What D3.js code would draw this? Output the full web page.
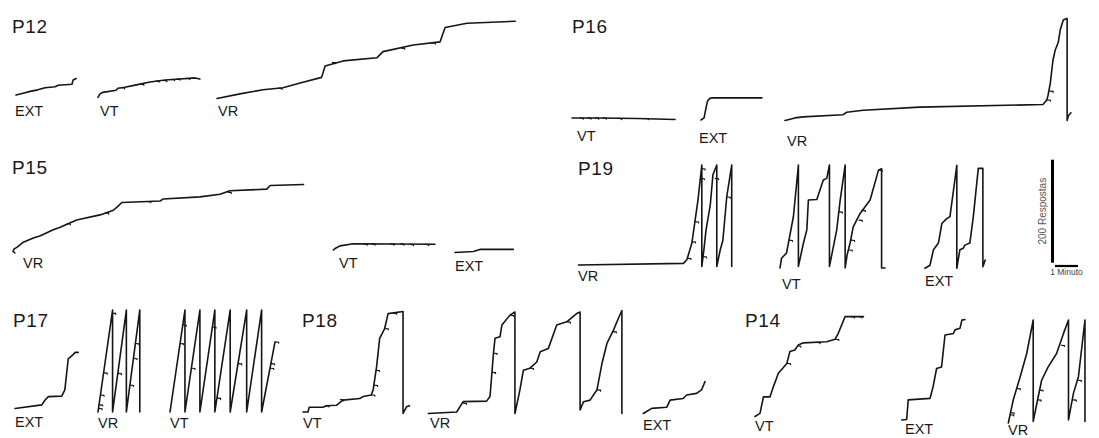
<!DOCTYPE html>
<html>
<head>
<meta charset="utf-8">
<script src="https://cdn.jsdelivr.net/npm/d3@7"></script>
<style>
  html, body { margin: 0; padding: 0; background: #fff; }
  svg { display: block; }
  text { font-family: "Liberation Sans", Arial, sans-serif; fill: #1a1a1a; }
</style>
</head>
<body>
<svg id="chart" width="1099" height="438"></svg>
<script>
// ---------------- DATA: cumulative records, [seconds, cumulative responses (pen position)] ----------------
const panels = ["P12", "P16", "P15", "P19", "P17", "P18", "P14"];
const conditions = ["EXT", "VT", "VR"];

const P12_EXT = [[0,0],[16,3],[37,7],[57,10],[76,14],[102,16],[110,19],[128,20],[146,21],[149,29],[157,32]];
const P12_VT  = [[0,1],[5,8],[13,11],[47,15],[52,19],[70,21],[97,25],[136,31],[175,35],[214,37],[253,39],[266,37]];
const P12_VT_PIPS = [[60,20],[110,27],[150,33],[170,34],[190,36],[205,37],[230,38]];
const P12_VR  = [[0,0],[60,9],[120,17],[172,21],[217,30],[273,41],[282,63],[329,73],[417,79],[433,91],[512,104],[582,110],[595,138],[652,146],[778,150]];
const P12_VR_PIPS = [[160,20],[300,70],[480,98],[560,108]];

const P16_VT  = [[0,3],[70,3],[170,2],[269,0]];
const P16_VT_PIPS = [[20,3],[40,3],[60,3],[80,3],[120,2],[190,2]];
const P16_EXT = [[0,0],[8,4],[13,23],[17,37],[23,42],[31,43],[159,43]];
const P16_VR  = [[0,1],[26,6],[47,8],[151,12],[161,17],[204,21],[352,27],[673,32],[683,41],[686,49],[692,73],[699,118],[705,138],[713,153],[718,177],[726,196],[735,199],[736,199],[736,1],[739,10],[746,16]];
const P16_VR_PIPS = [[683,41],[690,58]];

const P15_VR  = [[5,0],[0,3],[3,8],[10,11],[27,21],[53,29],[70,33],[105,45],[123,50],[166,64],[227,74],[262,83],[274,91],[284,98],[384,101],[392,105],[488,109],[540,114],[566,121],[662,124],[671,131],[758,133]];
const P15_VR_PIPS = [[140,57],[240,78],[350,100],[560,118]];
const P15_VT  = [[1,1],[8,5],[18,9],[53,13],[266,12]];
const P15_VT_PIPS = [[80,13],[100,13],[150,13],[175,13],[200,12],[240,12]];
const P15_EXT = [[0,0],[48,2],[65,6],[152,6]];

const P19_VR  = [[1,3],[275,6],[284,13],[297,45],[305,87],[313,129],[323,197],[323,0],[329,36],[334,71],[345,119],[352,178],[362,197],[362,0],[371,32],[378,51],[388,135],[401,197],[401,0]];
const P19_VR_PIPS = [[285,16],[297,48],[305,87],[320,171],[322,190],[326,19],[357,171],[388,135]];
const P19_VT  = [[0,0],[4,19],[17,29],[35,100],[48,200],[48,3],[61,48],[70,74],[74,132],[96,133],[113,171],[122,174],[129,200],[129,3],[148,74],[157,132],[170,200],[170,0],[175,25],[183,49],[191,80],[209,106],[235,132],[257,190],[265,193],[265,0],[274,0]];
const P19_VT_PIPS = [[23,54],[153,109],[179,35],[185,54],[205,93],[213,112],[257,190]];
const P19_EXT = [[0,0],[13,6],[22,36],[35,49],[44,87],[57,97],[65,100],[83,200],[83,0],[91,36],[100,39],[104,45],[117,49],[126,100],[139,194],[151,194],[151,3],[157,16]];

const P17_EXT = [[0,1],[70,8],[78,17],[87,24],[122,25],[130,37],[139,98],[148,103],[157,110],[165,110]];
const P17_VR  = [[0,0],[38,198],[38,0],[74,198],[74,0],[109,198],[109,0]];
const P17_VR_PIPS = [[1.3,7],[2.7,14],[6.3,33],[14.6,76],[36.8,192],[51.6,75],[83.2,52],[92.4,104],[97.5,133]];
const P17_VT  = [[0,0],[39,198],[39,0],[78,198],[78,0],[117,198],[117,0],[157,198],[157,0],[200,198],[200,0],[239,198],[239,0],[274,136]];
const P17_VT_PIPS = [[26,133],[33,169],[55.7,85],[110.5,165],[122.5,27],[177.4,94],[261,85],[263,94],[274,136]];

const P18_VT  = [[0,3],[13,3],[16,12],[52,12],[61,15],[87,16],[104,26],[148,29],[157,33],[178,36],[183,46],[192,91],[200,146],[213,165],[222,194],[261,198],[261,0],[270,13],[278,15]];
const P18_VT_PIPS = [[58,15],[96,27],[178,36],[185,55],[190,84],[213,165],[235,195]];
const P18_VR  = [[0,0],[74,3],[91,23],[152,24],[161,33],[170,117],[174,146],[187,149],[192,172],[213,191],[226,197],[226,0],[239,46],[248,84],[265,88],[283,100],[292,120],[313,126],[335,172],[361,178],[387,194],[396,197],[396,7],[405,23],[422,26],[440,46],[453,97],[466,136],[483,162],[496,185],[505,200],[505,0]];
const P18_VR_PIPS = [[90,20],[166,80],[170,117],[213,191],[265,88],[361,178],[440,46],[481,159]];
const P18_EXT = [[0,0],[22,10],[61,12],[70,26],[104,29],[113,36],[139,39],[152,46],[161,62]];

const P14_VT  = [[0,1],[13,7],[22,39],[39,39],[48,59],[61,85],[83,104],[91,127],[104,130],[113,140],[126,144],[187,146],[209,151],[217,162],[235,195],[283,195]];
const P14_VT_PIPS = [[83,104],[110,138],[160,145],[209,151],[250,195],[270,195]];
const P14_EXT = [[0,0],[13,1],[17,39],[74,42],[82,65],[91,100],[104,103],[113,165],[135,168],[139,175],[152,178],[157,194],[165,195]];
const P14_VR  = [[0,0],[13,45],[31,90],[48,135],[65,200],[65,3],[78,51],[87,83],[104,109],[126,135],[144,174],[157,200],[157,6],[170,58],[183,90],[200,200],[200,3]];
const P14_VR_PIPS = [[4.5,16],[6,20],[22,67],[76,45],[81,64],[137,151],[168,45],[181,83]];

// scale bar values
const scaleBarResponses = 200;
const scaleBarSeconds = 60;
const scaleBarLabels = ["200 Respostas", "1 Minuto"];

// ---------------- LAYOUT (pixel placement of each record) ----------------
const records = [
  {data: P12_EXT, pips: [], origin: [16, 95],    label: "EXT", lp: [15, 116]},
  {data: P12_VT,  pips: P12_VT_PIPS, origin: [98, 98], label: "VT", lp: [100, 116]},
  {data: P12_VR,  pips: P12_VR_PIPS, origin: [217, 98.5], label: "VR", lp: [218, 116]},

  {data: P16_VT,  pips: P16_VT_PIPS, origin: [572, 119.5], label: "VT", lp: [577, 141]},
  {data: P16_EXT, pips: [], origin: [701, 120], label: "EXT", lp: [699, 143]},
  {data: P16_VR,  pips: P16_VR_PIPS, origin: [785, 121], label: "VR", lp: [787, 146]},

  {data: P15_VR,  pips: P15_VR_PIPS, origin: [13, 253], label: "VR", lp: [23, 268]},
  {data: P15_VT,  pips: P15_VT_PIPS, origin: [333, 250.5], label: "VT", lp: [339, 268]},
  {data: P15_EXT, pips: [], origin: [455, 252.5], label: "EXT", lp: [455, 271]},

  {data: P19_VR,  pips: P19_VR_PIPS, origin: [578, 266.5], label: "VR", lp: [578, 281]},
  {data: P19_VT,  pips: P19_VT_PIPS, origin: [780, 268], label: "VT", lp: [782, 289]},
  {data: P19_EXT, pips: [], origin: [925, 268.3], label: "EXT", lp: [925, 286]},

  {data: P17_EXT, pips: [], origin: [15, 409], label: "EXT", lp: [15, 427]},
  {data: P17_VR,  pips: P17_VR_PIPS, origin: [98, 412], label: "VR", lp: [98, 428]},
  {data: P17_VT,  pips: P17_VT_PIPS, origin: [170, 412], label: "VT", lp: [170, 428]},

  {data: P18_VT,  pips: P18_VT_PIPS, origin: [303, 413.5], label: "VT", lp: [303, 428]},
  {data: P18_VR,  pips: P18_VR_PIPS, origin: [428.3, 413.5], label: "VR", lp: [430, 428]},
  {data: P18_EXT, pips: [], origin: [643.3, 413.5], label: "EXT", lp: [643, 430]},

  {data: P14_VT,  pips: P14_VT_PIPS, origin: [755, 417], label: "VT", lp: [755, 431]},
  {data: P14_EXT, pips: [], origin: [901.7, 420], label: "EXT", lp: [905, 434]},
  {data: P14_VR,  pips: P14_VR_PIPS, origin: [1008.3, 423], label: "VR", lp: [1008, 435]}
];
const titlePos = [[12, 33], [572, 33], [12, 174], [578, 175], [13, 327], [302, 327], [745, 327]];

// ---------------- SCALES ----------------
// 1 minute = 23 px ; 200 responses = 103 px (pen excursion)
const x = d3.scaleLinear().domain([0, 60]).range([0, 23]);
const y = d3.scaleLinear().domain([0, 200]).range([0, -103]);

const svg = d3.select("#chart");
const line = d3.line().x(d => x(d[0])).y(d => y(d[1])).curve(d3.curveLinear);

// panel titles
svg.selectAll("text.title").data(panels).join("text")
  .attr("class", "title")
  .attr("x", (d, i) => titlePos[i][0])
  .attr("y", (d, i) => titlePos[i][1])
  .style("font-size", "19px")
  .style("letter-spacing", "0.6px")
  .text(d => d);

// records
records.forEach(rec => {
  const g = svg.append("g").attr("transform", `translate(${rec.origin[0]},${rec.origin[1]})`);
  g.append("path")
    .attr("d", line(rec.data))
    .attr("fill", "none")
    .attr("stroke", "#151515")
    .attr("stroke-width", 1.6)
    .attr("stroke-linejoin", "round")
    .attr("stroke-linecap", "round");
  g.selectAll("path.pip").data(rec.pips).join("path")
    .attr("class", "pip")
    .attr("d", d => `M${x(d[0])},${y(d[1])} l3.5,0.3 l0.3,1.4`)
    .attr("fill", "none")
    .attr("stroke", "#151515")
    .attr("stroke-width", 1.2);
  svg.append("text")
    .attr("x", rec.lp[0])
    .attr("y", rec.lp[1])
    .style("font-size", "14.5px")
    .text(rec.label);
});

// scale bar
const sb = svg.append("g").attr("transform", "translate(1052.5,262.7)");
sb.append("line")
  .attr("x1", 0).attr("x2", 0)
  .attr("y1", y(0)).attr("y2", y(scaleBarResponses))
  .attr("stroke", "#000").attr("stroke-width", 3);
sb.append("line")
  .attr("x1", 2.5).attr("x2", 2.5 + x(scaleBarSeconds))
  .attr("y1", 3.3).attr("y2", 3.3)
  .attr("stroke", "#000").attr("stroke-width", 2.2);
sb.append("text")
  .attr("transform", `translate(-7,${y(scaleBarResponses / 2)}) rotate(-90)`)
  .attr("text-anchor", "middle")
  .style("font-size", "10px")
  .style("fill", "#555")
  .text(scaleBarLabels[0]);
sb.append("text")
  .attr("x", 2.5 + x(scaleBarSeconds) / 2)
  .attr("y", 12.5)
  .attr("text-anchor", "middle")
  .style("font-size", "8.5px")
  .style("fill", "#444")
  .text(scaleBarLabels[1]);
</script>
</body>
</html>
